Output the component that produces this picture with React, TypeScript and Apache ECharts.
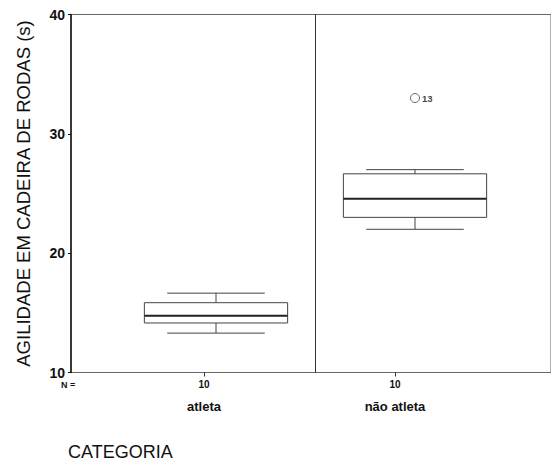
import React, { useEffect, useRef } from 'react';
import * as echarts from 'echarts';

const categories = ['atleta', 'não atleta'];
const counts = [10, 10];
const whiskerLow = [13.3, 22.0];
const q1 = [14.15, 23.0];
const median = [14.75, 24.55];
const q3 = [15.85, 26.65];
const whiskerHigh = [16.65, 27.0];
const outlierCategory = [1];
const outlierValue = [33];
const outlierCase = ['13'];
const yMin = 10;
const yMax = 40;
const yInterval = 10;
const yTitle = 'AGILIDADE EM CADEIRA DE RODAS (s)';
const xTitle = 'CATEGORIA';
const nLabel = 'N =';

export default function App() {
  const ref = useRef<HTMLDivElement>(null);
  useEffect(() => {
    const chart = echarts.init(ref.current!, null, { renderer: 'svg' });
    const font = 'Liberation Sans, Arial, sans-serif';
    const top = 14.5;
    const bottom = 92.5;
    const boxLeft = 116.5;
    const boxWidth = 398;
    const boxData = categories.map((_, i) => [i, whiskerLow[i], q1[i], median[i], q3[i], whiskerHigh[i]]);
    const outData = outlierCategory.map((c, i) => ({ value: [c, outlierValue[i]], name: outlierCase[i] }));
    chart.setOption({
      animation: false,
      backgroundColor: '#ffffff',
      grid: [
        { left: 71, right: -2, top, bottom, show: true, borderColor: '#666', borderWidth: 1 },
        { left: 108.5, width: 382, top, bottom },
        { left: boxLeft, width: boxWidth, top, bottom },
        { left: boxLeft + boxWidth / categories.length, width: 1, top, bottom },
      ],
      xAxis: [
        { gridIndex: 0, type: 'value', show: false, min: 0, max: 1 },
        {
          gridIndex: 1,
          type: 'category',
          data: categories,
          axisLine: { show: false },
          axisTick: { show: true, alignWithLabel: true, length: 4, lineStyle: { color: '#333' } },
          splitLine: { show: false },
          axisLabel: {
            margin: 4,
            formatter: (v: string, i: number) => `{n|${counts[i]}}\n{c|${v}}`,
            rich: {
              n: { fontFamily: font, fontWeight: 'bold', fontSize: 10, color: '#111', lineHeight: 16 },
              c: { fontFamily: font, fontWeight: 'bold', fontSize: 13, color: '#111', lineHeight: 28 },
            },
          },
        },
        {
          gridIndex: 2,
          type: 'category',
          data: categories,
          axisLine: { show: false },
          axisTick: { show: false },
          axisLabel: { show: false },
          splitLine: { show: false },
        },
        { gridIndex: 3, type: 'value', show: false, min: 0, max: 1 },
      ],
      yAxis: [
        {
          gridIndex: 0,
          type: 'value',
          min: yMin,
          max: yMax,
          interval: yInterval,
          name: yTitle,
          nameLocation: 'middle',
          nameGap: 38,
          nameTextStyle: { fontFamily: font, fontSize: 18.5, color: '#111' },
          axisLine: { show: true, lineStyle: { color: '#111', width: 1.5 } },
          axisTick: { show: true, length: 3, lineStyle: { color: '#111' } },
          axisLabel: { fontFamily: font, fontWeight: 'bold', fontSize: 14, color: '#111', margin: 6 },
          splitLine: { show: false },
        },
        { gridIndex: 1, type: 'value', min: yMin, max: yMax, show: false, splitLine: { show: false } },
        { gridIndex: 2, type: 'value', min: yMin, max: yMax, show: false, splitLine: { show: false } },
        {
          gridIndex: 3,
          type: 'value',
          min: yMin,
          max: yMax,
          axisLine: { show: true, lineStyle: { color: '#333', width: 1 } },
          axisTick: { show: false },
          axisLabel: { show: false },
          splitLine: { show: false },
        },
      ],
      graphic: [
        { type: 'text', left: 61, top: 380, style: { text: nLabel, fontFamily: font, fontWeight: 'bold', fontSize: 9, fill: '#111' } },
        { type: 'text', left: 68, top: 443, style: { text: xTitle, fontFamily: font, fontSize: 18, fill: '#111' } },
      ],
      series: [
        {
          type: 'custom',
          xAxisIndex: 2,
          yAxisIndex: 2,
          data: boxData,
          renderItem: (params: any, api: any) => {
            const c = api.value(0);
            const pLow = api.coord([c, api.value(1)]);
            const pQ1 = api.coord([c, api.value(2)]);
            const pMed = api.coord([c, api.value(3)]);
            const pQ3 = api.coord([c, api.value(4)]);
            const pHigh = api.coord([c, api.value(5)]);
            const band = api.size([1, 0])[0];
            const bw = band * 0.72;
            const cw = band * 0.49;
            const cx = pMed[0];
            const st = { stroke: '#444', lineWidth: 1, fill: 'none' };
            return {
              type: 'group',
              children: [
                { type: 'rect', shape: { x: cx - bw / 2, y: pQ3[1], width: bw, height: pQ1[1] - pQ3[1] }, style: st },
                { type: 'line', shape: { x1: cx - bw / 2, y1: pMed[1], x2: cx + bw / 2, y2: pMed[1] }, style: { stroke: '#222', lineWidth: 2 } },
                { type: 'line', shape: { x1: cx, y1: pQ3[1], x2: cx, y2: pHigh[1] }, style: st },
                { type: 'line', shape: { x1: cx, y1: pQ1[1], x2: cx, y2: pLow[1] }, style: st },
                { type: 'line', shape: { x1: cx - cw / 2, y1: pHigh[1], x2: cx + cw / 2, y2: pHigh[1] }, style: st },
                { type: 'line', shape: { x1: cx - cw / 2, y1: pLow[1], x2: cx + cw / 2, y2: pLow[1] }, style: st },
              ],
            };
          },
        },
        {
          type: 'scatter',
          xAxisIndex: 2,
          yAxisIndex: 2,
          data: outData,
          symbol: 'circle',
          symbolSize: 9,
          itemStyle: { color: '#ffffff', borderColor: '#444', borderWidth: 1 },
          label: {
            show: true,
            position: 'right',
            distance: 2,
            formatter: (p: any) => p.name,
            fontFamily: font,
            fontWeight: 'bold',
            fontSize: 9.5,
            color: '#111',
          },
        },
      ],
    });
    return () => chart.dispose();
  }, []);
  return (
    <div
      ref={ref}
      style={{ position: 'absolute', left: 0, top: 0, width: 551, height: 465, background: '#fff' }}
    />
  );
}
